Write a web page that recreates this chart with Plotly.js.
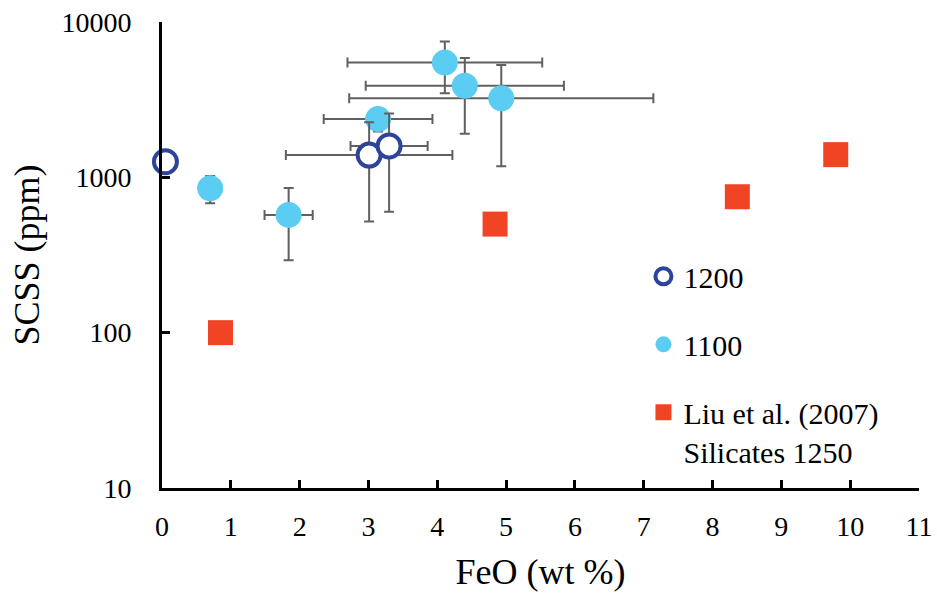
<!DOCTYPE html>
<html>
<head>
<meta charset="utf-8">
<script src="https://cdn.plot.ly/plotly-3.0.1.min.js"></script>
<style>
  html, body { margin: 0; padding: 0; background: #ffffff; }
  #chart { width: 937px; height: 593px; }
</style>
</head>
<body>
<div id="chart"></div>
<script>
// Experiments at 1200 °C
const feo1200 = [0.05, 3.01, 3.30];
const scss1200 = [1260, 1390, 1590];
const feoErr1200 = [0, 1.21, 0.56];
const scssErr1200 = [0, 870, 990];

// Experiments at 1100 °C
const feo1100 = [0.70, 1.84, 3.14, 4.11, 4.40, 4.93];
const scss1100 = [850, 573, 2370, 5480, 3890, 3230];
const feoErr1100 = [0, 0.35, 0.79, 1.415, 1.44, 2.21];
const scssErr1100 = [170, 280, 400, 2000, 1980, 2050];

// Liu et al. (2007), silicate melts at 1250 °C
const feoLiu = [0.85, 4.84, 8.36, 9.79];
const scssLiu = [100, 500, 750, 1400];

const fontName = 'Liberation Serif';
const errColor = '#606060';

const traces = [
  {
    name: '1200',
    x: feo1200, y: scss1200,
    type: 'scatter', mode: 'markers', cliponaxis: false,
    legendgroup: 'a', legendrank: 1,
    error_x: { type: 'data', array: feoErr1200, visible: true, color: errColor, thickness: 2, width: 5 },
    error_y: { type: 'data', array: scssErr1200, visible: true, color: errColor, thickness: 2, width: 5 },
    marker: { symbol: 'circle', size: 23, color: '#ffffff', line: { color: '#2E449B', width: 4 } }
  },
  {
    name: '1100',
    x: feo1100, y: scss1100,
    type: 'scatter', mode: 'markers', cliponaxis: false,
    legendgroup: 'b', legendrank: 2,
    error_x: { type: 'data', array: feoErr1100, visible: true, color: errColor, thickness: 2, width: 5 },
    error_y: { type: 'data', array: scssErr1100, visible: true, color: errColor, thickness: 2, width: 5 },
    marker: { symbol: 'circle', size: 26, color: '#5BCCF2' }
  },
  {
    name: 'Liu et al. (2007)<br>Silicates 1250',
    x: feoLiu, y: scssLiu,
    type: 'scatter', mode: 'markers', cliponaxis: false,
    legendgroup: 'c', legendrank: 3,
    marker: { symbol: 'square', size: 25, color: '#F04425' }
  }
];

// draw 1100 first so the open 1200 rings sit on top
const drawOrder = [traces[1], traces[2], traces[0]];

const layout = {
  width: 937, height: 593,
  margin: { l: 162, r: 18, t: 22, b: 105 },
  paper_bgcolor: '#ffffff', plot_bgcolor: '#ffffff',
  font: { family: fontName, color: '#000000', size: 28 },
  showlegend: true,
  legend: {
    x: 0.636, y: 0.51, xanchor: 'left', yanchor: 'top',
    bgcolor: 'rgba(0,0,0,0)',
    font: { family: fontName, size: 30, color: '#000000' },
    traceorder: 'grouped', tracegroupgap: 26,
    valign: 'top'
  },
  xaxis: {
    range: [0, 11],
    tickmode: 'array', tickvals: [0,1,2,3,4,5,6,7,8,9,10,11],
    ticks: 'inside', ticklen: 8, tickwidth: 3, tickcolor: '#000000',
    showline: true, linecolor: '#000000', linewidth: 3,
    showgrid: false, zeroline: false,
    tickfont: { family: fontName, size: 28 },
    ticklabelstandoff: 11,
    title: { text: 'FeO (wt %)', font: { family: fontName, size: 36 }, standoff: 19 }
  },
  yaxis: {
    type: 'log', range: [1, 4],
    tickmode: 'array', tickvals: [10, 100, 1000, 10000], ticktext: ['10', '100', '1000', '10000'],
    ticks: 'inside', ticklen: 8, tickwidth: 3, tickcolor: '#000000',
    showline: true, linecolor: '#000000', linewidth: 3,
    showgrid: false, zeroline: false,
    tickfont: { family: fontName, size: 28 },
    ticklabelstandoff: 22,
    title: { text: 'SCSS (ppm)', font: { family: fontName, size: 36 }, standoff: 11 }
  }
};

Plotly.newPlot('chart', drawOrder, layout, { displayModeBar: false, staticPlot: true });
</script>
</body>
</html>
